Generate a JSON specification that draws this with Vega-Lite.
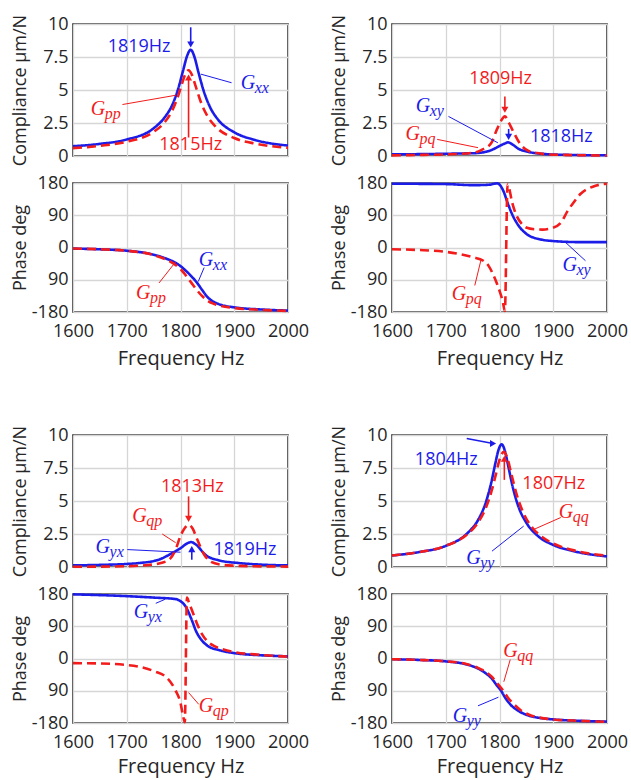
{
"$schema":"https://vega.github.io/schema/vega-lite/v6.json",
"padding":{"left":10,"top":13,"right":5,"bottom":5},
"background":"white",
"datasets":{
"curves":[
{"p":"A","s":"b","f":1600,"v":0.74},{"p":"A","s":"b","f":1650,"v":0.92},{"p":"A","s":"b","f":1700,"v":1.25},{"p":"A","s":"b","f":1750,"v":2.1},{"p":"A","s":"b","f":1770,"v":2.9},{"p":"A","s":"b","f":1785,"v":3.9},{"p":"A","s":"b","f":1795,"v":5.0},{"p":"A","s":"b","f":1805,"v":6.5},{"p":"A","s":"b","f":1812,"v":7.55},{"p":"A","s":"b","f":1819,"v":8.05},{"p":"A","s":"b","f":1826,"v":7.5},{"p":"A","s":"b","f":1833,"v":6.4},{"p":"A","s":"b","f":1843,"v":4.95},{"p":"A","s":"b","f":1855,"v":3.7},{"p":"A","s":"b","f":1870,"v":2.75},{"p":"A","s":"b","f":1900,"v":1.8},{"p":"A","s":"b","f":1940,"v":1.2},{"p":"A","s":"b","f":2000,"v":0.79},
{"p":"A","s":"r","f":1600,"v":0.6},{"p":"A","s":"r","f":1650,"v":0.77},{"p":"A","s":"r","f":1700,"v":1.08},{"p":"A","s":"r","f":1750,"v":1.83},{"p":"A","s":"r","f":1770,"v":2.53},{"p":"A","s":"r","f":1785,"v":3.48},{"p":"A","s":"r","f":1795,"v":4.48},{"p":"A","s":"r","f":1803,"v":5.5},{"p":"A","s":"r","f":1809,"v":6.21},{"p":"A","s":"r","f":1815,"v":6.5},{"p":"A","s":"r","f":1821,"v":6.17},{"p":"A","s":"r","f":1828,"v":5.31},{"p":"A","s":"r","f":1838,"v":4.07},{"p":"A","s":"r","f":1850,"v":3.03},{"p":"A","s":"r","f":1865,"v":2.24},{"p":"A","s":"r","f":1900,"v":1.36},{"p":"A","s":"r","f":1940,"v":0.93},{"p":"A","s":"r","f":2000,"v":0.62},
{"p":"B","s":"b","f":1600,"v":-3},{"p":"B","s":"b","f":1650,"v":-5},{"p":"B","s":"b","f":1700,"v":-9},{"p":"B","s":"b","f":1750,"v":-20},{"p":"B","s":"b","f":1775,"v":-32},{"p":"B","s":"b","f":1790,"v":-42},{"p":"B","s":"b","f":1800,"v":-52},{"p":"B","s":"b","f":1810,"v":-65},{"p":"B","s":"b","f":1820,"v":-80},{"p":"B","s":"b","f":1830,"v":-97},{"p":"B","s":"b","f":1840,"v":-118},{"p":"B","s":"b","f":1850,"v":-138},{"p":"B","s":"b","f":1860,"v":-150},{"p":"B","s":"b","f":1875,"v":-160},{"p":"B","s":"b","f":1900,"v":-167},{"p":"B","s":"b","f":1950,"v":-173},{"p":"B","s":"b","f":2000,"v":-176},
{"p":"B","s":"r","f":1600,"v":-3},{"p":"B","s":"r","f":1650,"v":-5},{"p":"B","s":"r","f":1700,"v":-9},{"p":"B","s":"r","f":1750,"v":-21},{"p":"B","s":"r","f":1775,"v":-35},{"p":"B","s":"r","f":1790,"v":-48},{"p":"B","s":"r","f":1800,"v":-60},{"p":"B","s":"r","f":1810,"v":-78},{"p":"B","s":"r","f":1820,"v":-98},{"p":"B","s":"r","f":1830,"v":-118},{"p":"B","s":"r","f":1840,"v":-135},{"p":"B","s":"r","f":1850,"v":-148},{"p":"B","s":"r","f":1860,"v":-156},{"p":"B","s":"r","f":1875,"v":-163},{"p":"B","s":"r","f":1900,"v":-169},{"p":"B","s":"r","f":1950,"v":-174},{"p":"B","s":"r","f":2000,"v":-177},
{"p":"C","s":"b","f":1600,"v":0.12},{"p":"C","s":"b","f":1650,"v":0.14},{"p":"C","s":"b","f":1700,"v":0.17},{"p":"C","s":"b","f":1740,"v":0.2},{"p":"C","s":"b","f":1760,"v":0.23},{"p":"C","s":"b","f":1785,"v":0.45},{"p":"C","s":"b","f":1800,"v":0.76},{"p":"C","s":"b","f":1810,"v":0.95},{"p":"C","s":"b","f":1816,"v":1.03},{"p":"C","s":"b","f":1825,"v":0.85},{"p":"C","s":"b","f":1834,"v":0.58},{"p":"C","s":"b","f":1853,"v":0.32},{"p":"C","s":"b","f":1884,"v":0.15},{"p":"C","s":"b","f":1920,"v":0.09},{"p":"C","s":"b","f":2000,"v":0.05},
{"p":"C","s":"r","f":1600,"v":0.05},{"p":"C","s":"r","f":1650,"v":0.08},{"p":"C","s":"r","f":1700,"v":0.12},{"p":"C","s":"r","f":1748,"v":0.23},{"p":"C","s":"r","f":1766,"v":0.45},{"p":"C","s":"r","f":1785,"v":1.0},{"p":"C","s":"r","f":1794,"v":1.9},{"p":"C","s":"r","f":1802,"v":2.6},{"p":"C","s":"r","f":1810,"v":3.0},{"p":"C","s":"r","f":1817,"v":2.55},{"p":"C","s":"r","f":1825,"v":1.9},{"p":"C","s":"r","f":1837,"v":1.0},{"p":"C","s":"r","f":1853,"v":0.4},{"p":"C","s":"r","f":1870,"v":0.22},{"p":"C","s":"r","f":1890,"v":0.12},{"p":"C","s":"r","f":1950,"v":0.06},{"p":"C","s":"r","f":2000,"v":0.04},
{"p":"D","s":"b","f":1600,"v":178},{"p":"D","s":"b","f":1700,"v":177},{"p":"D","s":"b","f":1750,"v":174},{"p":"D","s":"b","f":1780,"v":175},{"p":"D","s":"b","f":1790,"v":178},{"p":"D","s":"b","f":1796,"v":179},{"p":"D","s":"b","f":1802,"v":172},{"p":"D","s":"b","f":1808,"v":155},{"p":"D","s":"b","f":1815,"v":125},{"p":"D","s":"b","f":1825,"v":88},{"p":"D","s":"b","f":1835,"v":62},{"p":"D","s":"b","f":1850,"v":38},{"p":"D","s":"b","f":1875,"v":23},{"p":"D","s":"b","f":1900,"v":18},{"p":"D","s":"b","f":1950,"v":15},{"p":"D","s":"b","f":2000,"v":15},
{"p":"D","s":"r","f":1600,"v":-5},{"p":"D","s":"r","f":1650,"v":-7},{"p":"D","s":"r","f":1700,"v":-12},{"p":"D","s":"r","f":1750,"v":-27},{"p":"D","s":"r","f":1770,"v":-37},{"p":"D","s":"r","f":1780,"v":-52},{"p":"D","s":"r","f":1789,"v":-78},{"p":"D","s":"r","f":1795,"v":-100},{"p":"D","s":"r","f":1801,"v":-125},{"p":"D","s":"r","f":1806,"v":-150},{"p":"D","s":"r","f":1810,"v":-177},{"p":"D","s":"r","f":1815,"v":176},{"p":"D","s":"r","f":1818,"v":165},{"p":"D","s":"r","f":1823,"v":129},{"p":"D","s":"r","f":1832,"v":88},{"p":"D","s":"r","f":1842,"v":65},{"p":"D","s":"r","f":1851,"v":55},{"p":"D","s":"r","f":1865,"v":51},{"p":"D","s":"r","f":1880,"v":50},{"p":"D","s":"r","f":1895,"v":53},{"p":"D","s":"r","f":1914,"v":69},{"p":"D","s":"r","f":1926,"v":100},{"p":"D","s":"r","f":1940,"v":130},{"p":"D","s":"r","f":1951,"v":150},{"p":"D","s":"r","f":1976,"v":171},{"p":"D","s":"r","f":2000,"v":178},
{"p":"E","s":"b","f":1600,"v":0.12},{"p":"E","s":"b","f":1650,"v":0.16},{"p":"E","s":"b","f":1700,"v":0.23},{"p":"E","s":"b","f":1723,"v":0.3},{"p":"E","s":"b","f":1760,"v":0.56},{"p":"E","s":"b","f":1785,"v":1.07},{"p":"E","s":"b","f":1800,"v":1.42},{"p":"E","s":"b","f":1812,"v":1.78},{"p":"E","s":"b","f":1820,"v":1.89},{"p":"E","s":"b","f":1828,"v":1.72},{"p":"E","s":"b","f":1847,"v":0.9},{"p":"E","s":"b","f":1872,"v":0.5},{"p":"E","s":"b","f":1909,"v":0.3},{"p":"E","s":"b","f":1950,"v":0.18},{"p":"E","s":"b","f":2000,"v":0.12},
{"p":"E","s":"r","f":1600,"v":0.02},{"p":"E","s":"r","f":1650,"v":0.03},{"p":"E","s":"r","f":1700,"v":0.06},{"p":"E","s":"r","f":1740,"v":0.15},{"p":"E","s":"r","f":1760,"v":0.27},{"p":"E","s":"r","f":1779,"v":0.56},{"p":"E","s":"r","f":1791,"v":1.33},{"p":"E","s":"r","f":1800,"v":2.35},{"p":"E","s":"r","f":1808,"v":2.95},{"p":"E","s":"r","f":1815,"v":3.2},{"p":"E","s":"r","f":1822,"v":2.95},{"p":"E","s":"r","f":1831,"v":2.1},{"p":"E","s":"r","f":1844,"v":0.95},{"p":"E","s":"r","f":1856,"v":0.4},{"p":"E","s":"r","f":1875,"v":0.18},{"p":"E","s":"r","f":1900,"v":0.1},{"p":"E","s":"r","f":1950,"v":0.05},{"p":"E","s":"r","f":2000,"v":0.03},
{"p":"F","s":"b","f":1600,"v":179},{"p":"F","s":"b","f":1700,"v":174},{"p":"F","s":"b","f":1750,"v":170},{"p":"F","s":"b","f":1790,"v":166},{"p":"F","s":"b","f":1800,"v":160},{"p":"F","s":"b","f":1810,"v":144},{"p":"F","s":"b","f":1820,"v":111},{"p":"F","s":"b","f":1830,"v":73},{"p":"F","s":"b","f":1840,"v":50},{"p":"F","s":"b","f":1850,"v":36},{"p":"F","s":"b","f":1875,"v":22},{"p":"F","s":"b","f":1900,"v":15},{"p":"F","s":"b","f":1950,"v":9},{"p":"F","s":"b","f":2000,"v":6},
{"p":"F","s":"r","f":1600,"v":-13},{"p":"F","s":"r","f":1650,"v":-14},{"p":"F","s":"r","f":1700,"v":-18},{"p":"F","s":"r","f":1750,"v":-35},{"p":"F","s":"r","f":1775,"v":-54},{"p":"F","s":"r","f":1790,"v":-87},{"p":"F","s":"r","f":1800,"v":-124},{"p":"F","s":"r","f":1805,"v":-162},{"p":"F","s":"r","f":1808,"v":-178},{"p":"F","s":"r","f":1812,"v":170},{"p":"F","s":"r","f":1816,"v":155},{"p":"F","s":"r","f":1822,"v":132},{"p":"F","s":"r","f":1830,"v":100},{"p":"F","s":"r","f":1840,"v":68},{"p":"F","s":"r","f":1850,"v":48},{"p":"F","s":"r","f":1865,"v":33},{"p":"F","s":"r","f":1880,"v":25},{"p":"F","s":"r","f":1900,"v":18},{"p":"F","s":"r","f":1950,"v":10},{"p":"F","s":"r","f":2000,"v":5},
{"p":"G","s":"b","f":1600,"v":0.87},{"p":"G","s":"b","f":1650,"v":1.13},{"p":"G","s":"b","f":1700,"v":1.6},{"p":"G","s":"b","f":1740,"v":2.55},{"p":"G","s":"b","f":1760,"v":3.55},{"p":"G","s":"b","f":1775,"v":4.95},{"p":"G","s":"b","f":1785,"v":6.45},{"p":"G","s":"b","f":1792,"v":7.8},{"p":"G","s":"b","f":1798,"v":8.85},{"p":"G","s":"b","f":1804,"v":9.3},{"p":"G","s":"b","f":1810,"v":8.8},{"p":"G","s":"b","f":1816,"v":7.7},{"p":"G","s":"b","f":1825,"v":6.0},{"p":"G","s":"b","f":1835,"v":4.6},{"p":"G","s":"b","f":1850,"v":3.35},{"p":"G","s":"b","f":1870,"v":2.4},{"p":"G","s":"b","f":1900,"v":1.67},{"p":"G","s":"b","f":1940,"v":1.18},{"p":"G","s":"b","f":2000,"v":0.8},
{"p":"G","s":"r","f":1600,"v":0.87},{"p":"G","s":"r","f":1650,"v":1.13},{"p":"G","s":"r","f":1700,"v":1.6},{"p":"G","s":"r","f":1740,"v":2.48},{"p":"G","s":"r","f":1760,"v":3.36},{"p":"G","s":"r","f":1775,"v":4.52},{"p":"G","s":"r","f":1785,"v":5.72},{"p":"G","s":"r","f":1793,"v":6.98},{"p":"G","s":"r","f":1800,"v":8.11},{"p":"G","s":"r","f":1808,"v":8.72},{"p":"G","s":"r","f":1815,"v":8.18},{"p":"G","s":"r","f":1822,"v":7.06},{"p":"G","s":"r","f":1832,"v":5.48},{"p":"G","s":"r","f":1845,"v":4.05},{"p":"G","s":"r","f":1860,"v":3.04},{"p":"G","s":"r","f":1880,"v":2.25},{"p":"G","s":"r","f":1900,"v":1.78},{"p":"G","s":"r","f":1940,"v":1.24},{"p":"G","s":"r","f":2000,"v":0.85},
{"p":"H","s":"b","f":1600,"v":-2},{"p":"H","s":"b","f":1650,"v":-4},{"p":"H","s":"b","f":1700,"v":-8},{"p":"H","s":"b","f":1740,"v":-17},{"p":"H","s":"b","f":1760,"v":-28},{"p":"H","s":"b","f":1775,"v":-42},{"p":"H","s":"b","f":1785,"v":-55},{"p":"H","s":"b","f":1795,"v":-75},{"p":"H","s":"b","f":1803,"v":-90},{"p":"H","s":"b","f":1810,"v":-108},{"p":"H","s":"b","f":1820,"v":-128},{"p":"H","s":"b","f":1835,"v":-146},{"p":"H","s":"b","f":1850,"v":-157},{"p":"H","s":"b","f":1875,"v":-166},{"p":"H","s":"b","f":1900,"v":-170},{"p":"H","s":"b","f":1950,"v":-174},{"p":"H","s":"b","f":2000,"v":-176},
{"p":"H","s":"r","f":1600,"v":-2},{"p":"H","s":"r","f":1650,"v":-4},{"p":"H","s":"r","f":1700,"v":-8},{"p":"H","s":"r","f":1740,"v":-16},{"p":"H","s":"r","f":1760,"v":-26},{"p":"H","s":"r","f":1775,"v":-38},{"p":"H","s":"r","f":1785,"v":-50},{"p":"H","s":"r","f":1795,"v":-68},{"p":"H","s":"r","f":1808,"v":-92},{"p":"H","s":"r","f":1815,"v":-108},{"p":"H","s":"r","f":1825,"v":-125},{"p":"H","s":"r","f":1840,"v":-145},{"p":"H","s":"r","f":1855,"v":-157},{"p":"H","s":"r","f":1875,"v":-165},{"p":"H","s":"r","f":1900,"v":-170},{"p":"H","s":"r","f":1950,"v":-174},{"p":"H","s":"r","f":2000,"v":-177}
],
"nums":[
{"p":"A","s":"b","f":1723,"v":8.26,"t":"1819Hz"},{"p":"A","s":"r","f":1819,"v":0.8,"t":"1815Hz"},
{"p":"C","s":"r","f":1802,"v":5.8,"t":"1809Hz"},{"p":"C","s":"b","f":1915,"v":1.44,"t":"1818Hz"},
{"p":"E","s":"r","f":1822,"v":6.04,"t":"1813Hz"},{"p":"E","s":"b","f":1920,"v":1.32,"t":"1819Hz"},
{"p":"G","s":"b","f":1701,"v":8.09,"t":"1804Hz"},{"p":"G","s":"r","f":1901,"v":6.3,"t":"1807Hz"}
],
"glab":[
{"p":"A","s":"b","f":1912,"v":5.5,"sub":"xx"},{"p":"A","s":"r","f":1633,"v":3.53,"sub":"pp"},
{"p":"B","s":"b","f":1834,"v":-35,"sub":"xx"},{"p":"B","s":"r","f":1717,"v":-127,"sub":"pp"},
{"p":"C","s":"b","f":1644,"v":3.8,"sub":"xy"},{"p":"C","s":"r","f":1625,"v":1.64,"sub":"pq"},
{"p":"D","s":"b","f":1917,"v":-48,"sub":"xy"},{"p":"D","s":"r","f":1711,"v":-129,"sub":"pq"},
{"p":"E","s":"r","f":1710,"v":3.88,"sub":"qp"},{"p":"E","s":"b","f":1642,"v":1.53,"sub":"yx"},
{"p":"F","s":"b","f":1713,"v":129,"sub":"yx"},{"p":"F","s":"r","f":1834,"v":-133,"sub":"qp"},
{"p":"G","s":"r","f":1910,"v":4.13,"sub":"qq"},{"p":"G","s":"b","f":1738,"v":0.69,"sub":"yy"},
{"p":"H","s":"r","f":1807,"v":20,"sub":"qq"},{"p":"H","s":"b","f":1713,"v":-161,"sub":"yy"}
],
"lead":[
{"p":"A","s":"b","f":1838,"v":6.2,"f2":1895,"v2":5.55},{"p":"A","s":"r","f":1791,"v":4.6,"f2":1692,"v2":3.9},
{"p":"B","s":"b","f":1833,"v":-95,"f2":1844,"v2":-56},{"p":"B","s":"r","f":1791,"v":-40,"f2":1760,"v2":-99},
{"p":"C","s":"b","f":1797,"v":1.0,"f2":1705,"v2":3.0},{"p":"C","s":"r","f":1760,"v":0.63,"f2":1684,"v2":1.26},
{"p":"D","s":"b","f":1923,"v":14,"f2":1960,"v2":-37},{"p":"D","s":"r","f":1766,"v":-32,"f2":1754,"v2":-106},
{"p":"E","s":"r","f":1791,"v":1.84,"f2":1766,"v2":2.5},{"p":"E","s":"b","f":1800,"v":1.12,"f2":1701,"v2":1.32},
{"p":"F","s":"b","f":1771,"v":165,"f2":1754,"v2":154},{"p":"F","s":"r","f":1815,"v":-95,"f2":1834,"v2":-128},
{"p":"G","s":"r","f":1864,"v":2.85,"f2":1914,"v2":3.75},{"p":"G","s":"b","f":1845,"v":3.1,"f2":1786,"v2":1.2},
{"p":"H","s":"r","f":1808,"v":-65,"f2":1820,"v2":-3},{"p":"H","s":"b","f":1798,"v":-108,"f2":1760,"v2":-132}
],
"arr":[
{"p":"A","s":"b","d":"down","f":1819,"v":8.45,"f2":1819,"v2":9.75},{"p":"A","s":"r","d":"up","f":1815,"v":5.95,"f2":1815,"v2":1.4},
{"p":"C","s":"r","d":"down","f":1810,"v":3.5,"f2":1810,"v2":4.5},{"p":"C","s":"b","d":"down","f":1817,"v":1.45,"f2":1817,"v2":2.05},
{"p":"E","s":"r","d":"down","f":1815,"v":3.65,"f2":1815,"v2":5.35},{"p":"E","s":"b","d":"up","f":1821,"v":1.35,"f2":1821,"v2":0.55},
{"p":"G","s":"b","d":"right","f":1788,"v":9.35,"f2":1739,"v2":9.74},{"p":"G","s":"r","d":"up","f":1809,"v":8.2,"f2":1809,"v2":6.6}
]
},
"columns":2,
"spacing":{"row":27,"column":104},
"bounds":"flush",
"concat":[
  {"width":215,"height":132,
   "encoding":{"x":{"field":"f","type":"quantitative","scale":{"domain":[1600,2000],"nice":false},"axis":{"values":[1600,1700,1800,1900,2000],"labels":false,"title":null}},
    "y":{"field":"v","type":"quantitative","scale":{"domain":[0,10],"nice":false},"axis":{"values":[0,2.5,5,7.5,10],"labelExpr":"toString(datum.value)","title":"Compliance µm/N","titleX":-44}},
    "color":{"field":"s","type":"nominal","scale":{"domain":["b","r"],"range":["#1c1ce8","#f21c1c"]},"legend":null}},
   "layer":[
    {"data":{"name":"curves"},"transform":[{"filter":"datum.p=='A'"}],"mark":{"type":"line","strokeWidth":2.6,"interpolate":"monotone"},"encoding":{"strokeDash":{"field":"s","type":"nominal","scale":{"domain":["b","r"],"range":[[1,0],[9,5]]},"legend":null}}},
    {"data":{"name":"lead"},"transform":[{"filter":"datum.p=='A'"}],"mark":{"type":"rule","strokeWidth":1},"encoding":{"x2":{"field":"f2"},"y2":{"field":"v2"}}},
    {"data":{"name":"arr"},"transform":[{"filter":"datum.p=='A'"}],"mark":{"type":"rule","strokeWidth":1.6},"encoding":{"x2":{"field":"f2"},"y2":{"field":"v2"}}},
    {"data":{"name":"arr"},"transform":[{"filter":"datum.p=='A'"}],"mark":{"type":"point","filled":true,"size":50,"opacity":1},"encoding":{"shape":{"field":"d","type":"nominal","scale":{"domain":["down","up","right"],"range":["triangle-down","triangle-up","triangle-right"]},"legend":null}}},
    {"data":{"name":"nums"},"transform":[{"filter":"datum.p=='A'"}],"mark":{"type":"text","fontSize":18,"font":"Open Sans"},"encoding":{"text":{"field":"t"}}},
    {"data":{"name":"glab"},"transform":[{"filter":"datum.p=='A'"}],"mark":{"type":"text","text":"G","font":"Liberation Serif","fontStyle":"italic","fontSize":20,"align":"left","baseline":"middle"}},
    {"data":{"name":"glab"},"transform":[{"filter":"datum.p=='A'"}],"mark":{"type":"text","font":"Liberation Serif","fontStyle":"italic","fontSize":16,"align":"left","baseline":"middle","dx":14,"dy":5},"encoding":{"text":{"field":"sub"}}}
   ]},
  {"width":215,"height":132,
   "encoding":{"x":{"field":"f","type":"quantitative","scale":{"domain":[1600,2000],"nice":false},"axis":{"values":[1600,1700,1800,1900,2000],"labels":false,"title":null}},
    "y":{"field":"v","type":"quantitative","scale":{"domain":[0,10],"nice":false},"axis":{"values":[0,2.5,5,7.5,10],"labelExpr":"toString(datum.value)","title":"Compliance µm/N","titleX":-44}},
    "color":{"field":"s","type":"nominal","scale":{"domain":["b","r"],"range":["#1c1ce8","#f21c1c"]},"legend":null}},
   "layer":[
    {"data":{"name":"curves"},"transform":[{"filter":"datum.p=='C'"}],"mark":{"type":"line","strokeWidth":2.6,"interpolate":"monotone"},"encoding":{"strokeDash":{"field":"s","type":"nominal","scale":{"domain":["b","r"],"range":[[1,0],[9,5]]},"legend":null}}},
    {"data":{"name":"lead"},"transform":[{"filter":"datum.p=='C'"}],"mark":{"type":"rule","strokeWidth":1},"encoding":{"x2":{"field":"f2"},"y2":{"field":"v2"}}},
    {"data":{"name":"arr"},"transform":[{"filter":"datum.p=='C'"}],"mark":{"type":"rule","strokeWidth":1.6},"encoding":{"x2":{"field":"f2"},"y2":{"field":"v2"}}},
    {"data":{"name":"arr"},"transform":[{"filter":"datum.p=='C'"}],"mark":{"type":"point","filled":true,"size":50,"opacity":1},"encoding":{"shape":{"field":"d","type":"nominal","scale":{"domain":["down","up","right"],"range":["triangle-down","triangle-up","triangle-right"]},"legend":null}}},
    {"data":{"name":"nums"},"transform":[{"filter":"datum.p=='C'"}],"mark":{"type":"text","fontSize":18,"font":"Open Sans"},"encoding":{"text":{"field":"t"}}},
    {"data":{"name":"glab"},"transform":[{"filter":"datum.p=='C'"}],"mark":{"type":"text","text":"G","font":"Liberation Serif","fontStyle":"italic","fontSize":20,"align":"left","baseline":"middle"}},
    {"data":{"name":"glab"},"transform":[{"filter":"datum.p=='C'"}],"mark":{"type":"text","font":"Liberation Serif","fontStyle":"italic","fontSize":16,"align":"left","baseline":"middle","dx":14,"dy":5},"encoding":{"text":{"field":"sub"}}}
   ]},
  {"width":215,"height":129,
   "encoding":{"x":{"field":"f","type":"quantitative","scale":{"domain":[1600,2000],"nice":false},"axis":{"values":[1600,1700,1800,1900,2000],"format":"d","title":"Frequency Hz","titleFontSize":20,"labelPadding":10,"titlePadding":8}},
    "y":{"field":"v","type":"quantitative","scale":{"domain":[-180,180],"nice":false},"axis":{"values":[-180,-90,0,90,180],"labelExpr":"datum.value == -90 ? '90' : toString(datum.value)","title":"Phase deg","titleX":-44}},
    "color":{"field":"s","type":"nominal","scale":{"domain":["b","r"],"range":["#1c1ce8","#f21c1c"]},"legend":null}},
   "layer":[
    {"data":{"name":"curves"},"transform":[{"filter":"datum.p=='B'"}],"mark":{"type":"line","strokeWidth":2.6,"interpolate":"monotone"},"encoding":{"strokeDash":{"field":"s","type":"nominal","scale":{"domain":["b","r"],"range":[[1,0],[9,5]]},"legend":null}}},
    {"data":{"name":"lead"},"transform":[{"filter":"datum.p=='B'"}],"mark":{"type":"rule","strokeWidth":1},"encoding":{"x2":{"field":"f2"},"y2":{"field":"v2"}}},
    {"data":{"name":"glab"},"transform":[{"filter":"datum.p=='B'"}],"mark":{"type":"text","text":"G","font":"Liberation Serif","fontStyle":"italic","fontSize":20,"align":"left","baseline":"middle"}},
    {"data":{"name":"glab"},"transform":[{"filter":"datum.p=='B'"}],"mark":{"type":"text","font":"Liberation Serif","fontStyle":"italic","fontSize":16,"align":"left","baseline":"middle","dx":14,"dy":5},"encoding":{"text":{"field":"sub"}}}
   ]},
  {"width":215,"height":129,
   "encoding":{"x":{"field":"f","type":"quantitative","scale":{"domain":[1600,2000],"nice":false},"axis":{"values":[1600,1700,1800,1900,2000],"format":"d","title":"Frequency Hz","titleFontSize":20,"labelPadding":10,"titlePadding":8}},
    "y":{"field":"v","type":"quantitative","scale":{"domain":[-180,180],"nice":false},"axis":{"values":[-180,-90,0,90,180],"labelExpr":"datum.value == -90 ? '90' : toString(datum.value)","title":"Phase deg","titleX":-44}},
    "color":{"field":"s","type":"nominal","scale":{"domain":["b","r"],"range":["#1c1ce8","#f21c1c"]},"legend":null}},
   "layer":[
    {"data":{"name":"curves"},"transform":[{"filter":"datum.p=='D'"}],"mark":{"type":"line","strokeWidth":2.6,"interpolate":"monotone"},"encoding":{"strokeDash":{"field":"s","type":"nominal","scale":{"domain":["b","r"],"range":[[1,0],[9,5]]},"legend":null}}},
    {"data":{"name":"lead"},"transform":[{"filter":"datum.p=='D'"}],"mark":{"type":"rule","strokeWidth":1},"encoding":{"x2":{"field":"f2"},"y2":{"field":"v2"}}},
    {"data":{"name":"glab"},"transform":[{"filter":"datum.p=='D'"}],"mark":{"type":"text","text":"G","font":"Liberation Serif","fontStyle":"italic","fontSize":20,"align":"left","baseline":"middle"}},
    {"data":{"name":"glab"},"transform":[{"filter":"datum.p=='D'"}],"mark":{"type":"text","font":"Liberation Serif","fontStyle":"italic","fontSize":16,"align":"left","baseline":"middle","dx":14,"dy":5},"encoding":{"text":{"field":"sub"}}}
   ]},
  {"width":215,"height":69,"view":{"stroke":null},"data":{"values":[]},"mark":"point"},
  {"width":215,"height":69,"view":{"stroke":null},"data":{"values":[]},"mark":"point"},
  {"width":215,"height":132,
   "encoding":{"x":{"field":"f","type":"quantitative","scale":{"domain":[1600,2000],"nice":false},"axis":{"values":[1600,1700,1800,1900,2000],"labels":false,"title":null}},
    "y":{"field":"v","type":"quantitative","scale":{"domain":[0,10],"nice":false},"axis":{"values":[0,2.5,5,7.5,10],"labelExpr":"toString(datum.value)","title":"Compliance µm/N","titleX":-44}},
    "color":{"field":"s","type":"nominal","scale":{"domain":["b","r"],"range":["#1c1ce8","#f21c1c"]},"legend":null}},
   "layer":[
    {"data":{"name":"curves"},"transform":[{"filter":"datum.p=='E'"}],"mark":{"type":"line","strokeWidth":2.6,"interpolate":"monotone"},"encoding":{"strokeDash":{"field":"s","type":"nominal","scale":{"domain":["b","r"],"range":[[1,0],[9,5]]},"legend":null}}},
    {"data":{"name":"lead"},"transform":[{"filter":"datum.p=='E'"}],"mark":{"type":"rule","strokeWidth":1},"encoding":{"x2":{"field":"f2"},"y2":{"field":"v2"}}},
    {"data":{"name":"arr"},"transform":[{"filter":"datum.p=='E'"}],"mark":{"type":"rule","strokeWidth":1.6},"encoding":{"x2":{"field":"f2"},"y2":{"field":"v2"}}},
    {"data":{"name":"arr"},"transform":[{"filter":"datum.p=='E'"}],"mark":{"type":"point","filled":true,"size":50,"opacity":1},"encoding":{"shape":{"field":"d","type":"nominal","scale":{"domain":["down","up","right"],"range":["triangle-down","triangle-up","triangle-right"]},"legend":null}}},
    {"data":{"name":"nums"},"transform":[{"filter":"datum.p=='E'"}],"mark":{"type":"text","fontSize":18,"font":"Open Sans"},"encoding":{"text":{"field":"t"}}},
    {"data":{"name":"glab"},"transform":[{"filter":"datum.p=='E'"}],"mark":{"type":"text","text":"G","font":"Liberation Serif","fontStyle":"italic","fontSize":20,"align":"left","baseline":"middle"}},
    {"data":{"name":"glab"},"transform":[{"filter":"datum.p=='E'"}],"mark":{"type":"text","font":"Liberation Serif","fontStyle":"italic","fontSize":16,"align":"left","baseline":"middle","dx":14,"dy":5},"encoding":{"text":{"field":"sub"}}}
   ]},
  {"width":215,"height":132,
   "encoding":{"x":{"field":"f","type":"quantitative","scale":{"domain":[1600,2000],"nice":false},"axis":{"values":[1600,1700,1800,1900,2000],"labels":false,"title":null}},
    "y":{"field":"v","type":"quantitative","scale":{"domain":[0,10],"nice":false},"axis":{"values":[0,2.5,5,7.5,10],"labelExpr":"toString(datum.value)","title":"Compliance µm/N","titleX":-44}},
    "color":{"field":"s","type":"nominal","scale":{"domain":["b","r"],"range":["#1c1ce8","#f21c1c"]},"legend":null}},
   "layer":[
    {"data":{"name":"curves"},"transform":[{"filter":"datum.p=='G'"}],"mark":{"type":"line","strokeWidth":2.6,"interpolate":"monotone"},"encoding":{"strokeDash":{"field":"s","type":"nominal","scale":{"domain":["b","r"],"range":[[1,0],[9,5]]},"legend":null}}},
    {"data":{"name":"lead"},"transform":[{"filter":"datum.p=='G'"}],"mark":{"type":"rule","strokeWidth":1},"encoding":{"x2":{"field":"f2"},"y2":{"field":"v2"}}},
    {"data":{"name":"arr"},"transform":[{"filter":"datum.p=='G'"}],"mark":{"type":"rule","strokeWidth":1.6},"encoding":{"x2":{"field":"f2"},"y2":{"field":"v2"}}},
    {"data":{"name":"arr"},"transform":[{"filter":"datum.p=='G'"}],"mark":{"type":"point","filled":true,"size":50,"opacity":1},"encoding":{"shape":{"field":"d","type":"nominal","scale":{"domain":["down","up","right"],"range":["triangle-down","triangle-up","triangle-right"]},"legend":null}}},
    {"data":{"name":"nums"},"transform":[{"filter":"datum.p=='G'"}],"mark":{"type":"text","fontSize":18,"font":"Open Sans"},"encoding":{"text":{"field":"t"}}},
    {"data":{"name":"glab"},"transform":[{"filter":"datum.p=='G'"}],"mark":{"type":"text","text":"G","font":"Liberation Serif","fontStyle":"italic","fontSize":20,"align":"left","baseline":"middle"}},
    {"data":{"name":"glab"},"transform":[{"filter":"datum.p=='G'"}],"mark":{"type":"text","font":"Liberation Serif","fontStyle":"italic","fontSize":16,"align":"left","baseline":"middle","dx":14,"dy":5},"encoding":{"text":{"field":"sub"}}}
   ]},
  {"width":215,"height":129,
   "encoding":{"x":{"field":"f","type":"quantitative","scale":{"domain":[1600,2000],"nice":false},"axis":{"values":[1600,1700,1800,1900,2000],"format":"d","title":"Frequency Hz","titleFontSize":20,"labelPadding":10,"titlePadding":5}},
    "y":{"field":"v","type":"quantitative","scale":{"domain":[-180,180],"nice":false},"axis":{"values":[-180,-90,0,90,180],"labelExpr":"datum.value == -90 ? '90' : toString(datum.value)","title":"Phase deg","titleX":-44}},
    "color":{"field":"s","type":"nominal","scale":{"domain":["b","r"],"range":["#1c1ce8","#f21c1c"]},"legend":null}},
   "layer":[
    {"data":{"name":"curves"},"transform":[{"filter":"datum.p=='F'"}],"mark":{"type":"line","strokeWidth":2.6,"interpolate":"monotone"},"encoding":{"strokeDash":{"field":"s","type":"nominal","scale":{"domain":["b","r"],"range":[[1,0],[9,5]]},"legend":null}}},
    {"data":{"name":"lead"},"transform":[{"filter":"datum.p=='F'"}],"mark":{"type":"rule","strokeWidth":1},"encoding":{"x2":{"field":"f2"},"y2":{"field":"v2"}}},
    {"data":{"name":"glab"},"transform":[{"filter":"datum.p=='F'"}],"mark":{"type":"text","text":"G","font":"Liberation Serif","fontStyle":"italic","fontSize":20,"align":"left","baseline":"middle"}},
    {"data":{"name":"glab"},"transform":[{"filter":"datum.p=='F'"}],"mark":{"type":"text","font":"Liberation Serif","fontStyle":"italic","fontSize":16,"align":"left","baseline":"middle","dx":14,"dy":5},"encoding":{"text":{"field":"sub"}}}
   ]},
  {"width":215,"height":129,
   "encoding":{"x":{"field":"f","type":"quantitative","scale":{"domain":[1600,2000],"nice":false},"axis":{"values":[1600,1700,1800,1900,2000],"format":"d","title":"Frequency Hz","titleFontSize":20,"labelPadding":10,"titlePadding":5}},
    "y":{"field":"v","type":"quantitative","scale":{"domain":[-180,180],"nice":false},"axis":{"values":[-180,-90,0,90,180],"labelExpr":"datum.value == -90 ? '90' : toString(datum.value)","title":"Phase deg","titleX":-44}},
    "color":{"field":"s","type":"nominal","scale":{"domain":["b","r"],"range":["#1c1ce8","#f21c1c"]},"legend":null}},
   "layer":[
    {"data":{"name":"curves"},"transform":[{"filter":"datum.p=='H'"}],"mark":{"type":"line","strokeWidth":2.6,"interpolate":"monotone"},"encoding":{"strokeDash":{"field":"s","type":"nominal","scale":{"domain":["b","r"],"range":[[1,0],[9,5]]},"legend":null}}},
    {"data":{"name":"lead"},"transform":[{"filter":"datum.p=='H'"}],"mark":{"type":"rule","strokeWidth":1},"encoding":{"x2":{"field":"f2"},"y2":{"field":"v2"}}},
    {"data":{"name":"glab"},"transform":[{"filter":"datum.p=='H'"}],"mark":{"type":"text","text":"G","font":"Liberation Serif","fontStyle":"italic","fontSize":20,"align":"left","baseline":"middle"}},
    {"data":{"name":"glab"},"transform":[{"filter":"datum.p=='H'"}],"mark":{"type":"text","font":"Liberation Serif","fontStyle":"italic","fontSize":16,"align":"left","baseline":"middle","dx":14,"dy":5},"encoding":{"text":{"field":"sub"}}}
   ]}
],
"config":{
 "font":"Open Sans",
 "view":{"stroke":"#262626","strokeWidth":1.6},
 "axis":{"domain":false,"ticks":false,"grid":true,"gridColor":"#d6d6d6","gridWidth":1.3,"labelFont":"Open Sans","labelFontSize":18,"labelColor":"#262626","labelPadding":5,"titleFont":"Open Sans","titleFontSize":18,"titleFontWeight":"normal","titleColor":"#262626","labelFlush":false,"labelOverlap":false,"titlePadding":5}
}
}
